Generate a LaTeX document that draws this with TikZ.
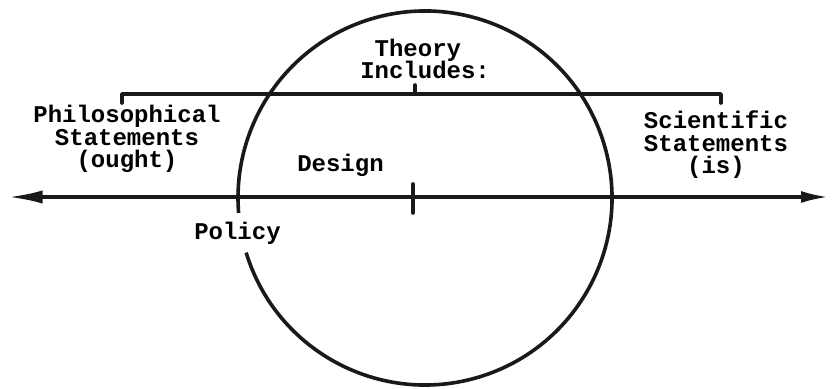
\documentclass[tikz,border=0pt]{standalone}
\usepackage{fontspec}
\setmonofont{Liberation Mono}
\usetikzlibrary{arrows.meta}
\tikzset{
  lbl/.style={font=\ttfamily\bfseries\fontsize{18}{16.9}\selectfont, inner sep=0pt, anchor=base},
  heavy/.style={line width=2.7pt, draw=black!90},
}
\begin{document}
\begin{tikzpicture}[x=0.75pt,y=0.75pt]
\useasboundingbox (0,0) rectangle (833,389);
% main axis
\coordinate (L) at (8,192);
\coordinate (R) at (829,192);
\draw[heavy, {Latex[length=26pt,width=10pt]}-{Latex[length=21pt,width=9pt]}] (L) -- (R);
\coordinate (mt1) at (413,205);
\coordinate (mt2) at (413,176);
\draw[heavy, line cap=round] (mt1) -- (mt2);
% circle with gap near Policy
\coordinate (C) at (425,191);
\draw[heavy] (C) ++(197:140.25pt) arc[start angle=197, end angle=544.6, radius=140.25pt];
% bracket
\coordinate (b1) at (122,286);
\coordinate (b2) at (122,295);
\coordinate (b3) at (721,295);
\coordinate (b4) at (721,286);
\draw[heavy, line cap=round, line join=round] (b1) -- (b2) -- (b3) -- (b4);
\coordinate (bt1) at (415,295);
\coordinate (bt2) at (415,304);
\draw[heavy, line cap=round] (bt1) -- (bt2);
% labels
\node[lbl, align=left, anchor=base west] (theory) at (360,310) {\ Theory\\Includes:};
\node[lbl, align=center] (phil) at (127,221) {Philosophical\\Statements\\(ought)};
\node[lbl, align=center] (sci) at (716,215) {Scientific\\Statements\\(is)};
\node[lbl, anchor=base west] (design) at (297,217) {Design};
\node[lbl, anchor=base west] (policy) at (194,149) {Policy};
\end{tikzpicture}
\end{document}
